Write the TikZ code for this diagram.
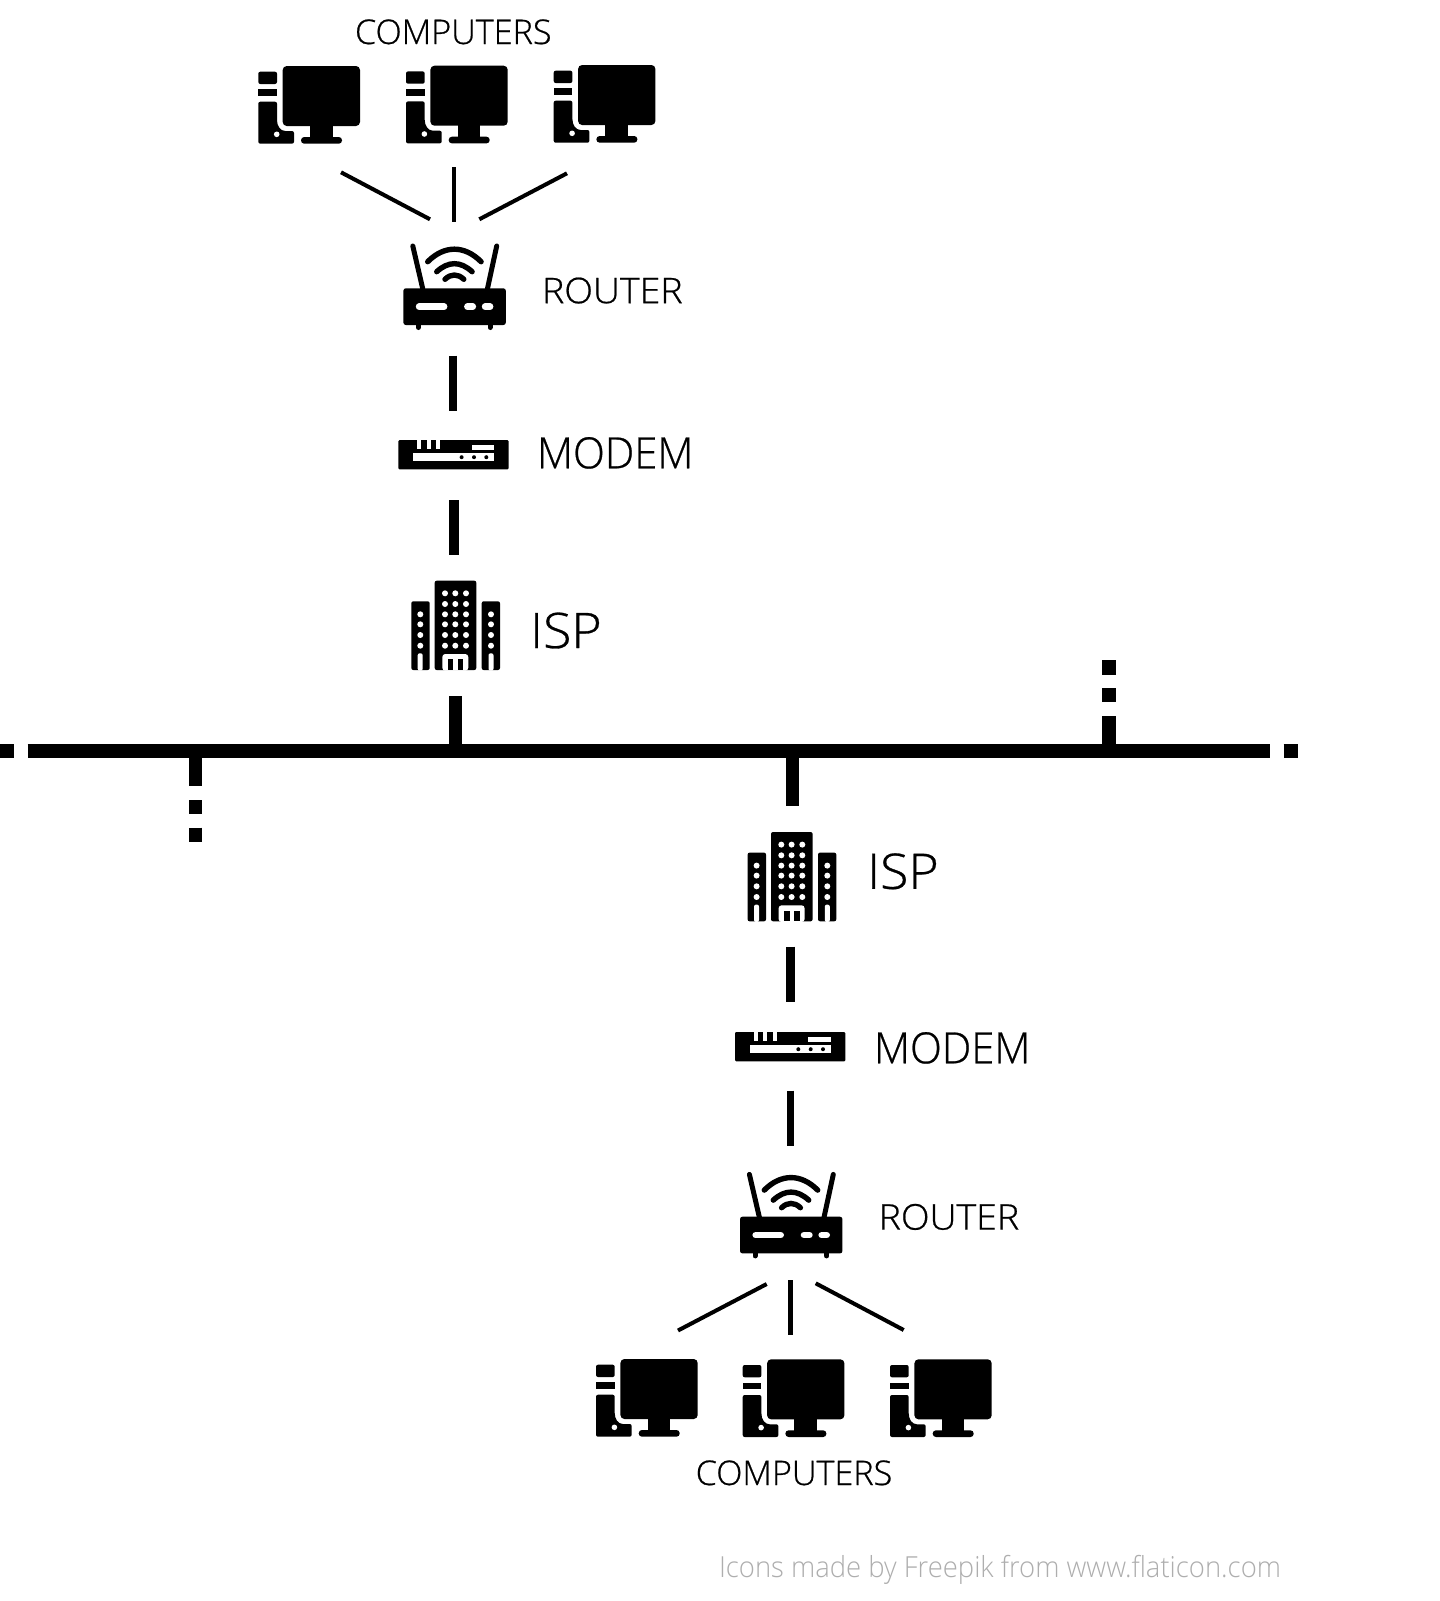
\documentclass[tikz,border=0pt]{standalone}
\usepackage{fontspec}
\setmainfont[UprightFont=* Light]{Open Sans}
\newfontfamily\lblfont[UprightFont=* Light,FakeBold=0.6]{Open Sans}
\definecolor{creditgray}{HTML}{AEAEAE}
\tikzset{
  x=0.5pt, y=-0.5pt,
  lbl/.style={anchor=base west, inner sep=0pt, outer sep=0pt, text=black},
  credit/.style={anchor=base west, inner sep=0pt, outer sep=0pt, text=creditgray},
  thinconn/.style={draw=black, line width=2pt},
  midconn/.style={draw=black, line width=2.4pt},
  icon/.style={fill=black, draw=none},
  hole/.style={fill=white, draw=none},
  computer/.pic={
    \fill[icon,rounded corners=1pt] (0,5.7) rectangle (18.7,18);
    \fill[icon] (0,23.3) rectangle (18.7,30);
    \fill[icon,rounded corners=1pt] (0,35.7) -- (18.7,35.7) -- (18.7,52) .. controls (18.7,60) and (22,65) .. (29,65) -- (35.7,65) -- (35.7,77.7) -- (0,77.7) -- cycle;
    \fill[hole] (18.4,68.3) circle[radius=2.8];
    \fill[icon,rounded corners=2pt] (24.4,0) rectangle (101.7,60);
    \fill[icon] (51.7,58) rectangle (74.4,72);
    \fill[icon,rounded corners=1.6pt] (42.7,71) rectangle (83.7,77.7);
  },
  router/.pic={
    \draw[black,line width=2.5pt,line cap=round] (-41.6,1) -- (-31.6,44);
    \draw[black,line width=2.5pt,line cap=round] (42.3,1) -- (33,44);
    \draw[black,line width=2.7pt,line cap=round] (-26.7,16.7) .. controls (-10,0) and (10,0) .. (26.7,16.7);
    \draw[black,line width=2.7pt,line cap=round] (-17.7,26.7) .. controls (-6,16) and (6,16) .. (17.7,26.7);
    \draw[black,line width=2.7pt,line cap=round] (-9.4,34.3) .. controls (-3.5,28.6) and (3.5,28.6) .. (9.4,34.3);
    \draw[black,line width=2.5pt,line cap=round] (-36,78) -- (-36,82.5);
    \draw[black,line width=2.5pt,line cap=round] (35.7,78) -- (35.7,82.5);
    \fill[icon,rounded corners=1.2pt] (-51,43.3) rectangle (51.4,80);
    \draw[white,line width=3.3pt,line cap=round] (-35.3,61.7) -- (-10.3,61.7);
    \draw[white,line width=3.3pt,line cap=round] (13,61.7) -- (18.4,61.7);
    \draw[white,line width=3.3pt,line cap=round] (30.7,61.7) -- (35.7,61.7);
  },
  modem/.pic={
    \fill[icon,rounded corners=0.6pt] (0,0) rectangle (110.4,29.3);
    \fill[hole] (18.7,-0.2) rectangle (23,9);
    \fill[hole] (28.3,-0.2) rectangle (32.3,9);
    \fill[hole] (37.7,-0.2) rectangle (42,9);
    \fill[hole] (73.3,5) rectangle (96,10);
    \fill[hole] (15,13.3) rectangle (96,21);
    \foreach \dx in {63.3,75.7,88}{\fill[icon] (\dx,17.2) circle[radius=2];}
  },
  isp/.pic={
    \fill[icon,rounded corners=1pt] (23.4,0) -- (65,0) -- (65,89.3) -- (23.4,89.3) -- cycle;
    \fill[icon,rounded corners=1pt] (0,20.6) -- (18.4,20.6) -- (18.4,89.3) -- (0,89.3) -- cycle;
    \fill[icon,rounded corners=1pt] (70.4,20.6) -- (88.7,20.6) -- (88.7,89.3) -- (70.4,89.3) -- cycle;
    \foreach \wx in {33.7,44,54.7}{\foreach \wy in {12.6,23.3,33.6,43.6,54.3,65}{\fill[hole] (\wx,\wy) circle[radius=3];}}
    \foreach \wx in {9,79.7}{\foreach \wy in {33.6,43.6,54.3,65}{\fill[hole] (\wx,\wy) circle[radius=3];}}
    \fill[hole,rounded corners=1pt] (6.4,90) -- (6.4,72.6) -- (11.4,72.6) -- (11.4,90) -- cycle;
    \fill[hole,rounded corners=1pt] (77.2,90) -- (77.2,72.6) -- (82.2,72.6) -- (82.2,90) -- cycle;
    \fill[hole,rounded corners=1.5pt] (31,90) -- (31,73.3) -- (57,73.3) -- (57,90) -- cycle;
    \fill[icon] (36.5,78.7) rectangle (42,89.3);
    \fill[icon] (46.5,78.7) rectangle (52,89.3);
  },
}
\begin{document}
\begin{tikzpicture}
\useasboundingbox (0,0) rectangle (1440,1601);
\fill[white] (0,0) rectangle (1440,1601);

% top computers, router, modem, isp
\pic (pca) at (258.3,66) {computer};
\pic (pcb) at (406,65.7) {computer};
\pic (pcc) at (553.7,65) {computer};
\pic (rta) at (454.4,245) {router};
\pic (mda) at (398.3,440) {modem};
\pic (spa) at (411.3,580.7) {isp};

% lower isp, modem, router, computers
\pic (spb) at (747.6,832) {isp};
\pic (mdb) at (735,1032) {modem};
\pic (rtb) at (791,1173.4) {router};
\pic (pcd) at (596,1359) {computer};
\pic (pce) at (742.7,1359.3) {computer};
\pic (pcf) at (890,1359.3) {computer};

% labels
\node[lbl,font=\lblfont\fontsize{17}{20}\selectfont] (ca) at (355,44) {\scalebox{1.006}[1]{COMPUTERS}};
\node[lbl,font=\lblfont\fontsize{17.7}{20}\selectfont] (ra) at (542,303.2) {\scalebox{1.06}[1]{ROUTER}};
\node[lbl,font=\lblfont\fontsize{21.5}{24}\selectfont] (ma) at (537,468.3) {\scalebox{0.97}[1]{MODEM}};
\node[lbl,font=\lblfont\fontsize{24.5}{28}\selectfont] (ia) at (530,648) {\scalebox{1.06}[1]{ISP}};
\node[lbl,font=\lblfont\fontsize{24.5}{28}\selectfont] (ib) at (867,888.8) {\scalebox{1.06}[1]{ISP}};
\node[lbl,font=\lblfont\fontsize{21.5}{24}\selectfont] (mb) at (874,1063.3) {\scalebox{0.97}[1]{MODEM}};
\node[lbl,font=\lblfont\fontsize{17.7}{20}\selectfont] (rb) at (878.6,1229.6) {\scalebox{1.06}[1]{ROUTER}};
\node[lbl,font=\lblfont\fontsize{17}{20}\selectfont] (cb) at (695.7,1485) {\scalebox{1.006}[1]{COMPUTERS}};
\node[credit,font=\fontsize{14.5}{17}\selectfont] (cr) at (719,1577.3) {\scalebox{0.946}[1]{Icons made by Freepik from www.flaticon.com}};

% connector ends, top group
\coordinate (t1) at (341,172.3); \coordinate (t2) at (430,219.3);
\coordinate (t3) at (454,167.3); \coordinate (t4) at (454,222.3);
\coordinate (t5) at (567,173.3); \coordinate (t6) at (479.3,219.3);
\coordinate (t7) at (453,355.7); \coordinate (t8) at (453,411.3);
\coordinate (t9) at (453.8,500); \coordinate (t10) at (453.8,555);
\coordinate (t11) at (455.5,696); \coordinate (t12) at (455.5,751);
\draw[thinconn] (t1) -- (t2);
\draw[midconn] (t3) -- (t4);
\draw[thinconn] (t5) -- (t6);
\draw[black,line width=3.6pt] (t7) -- (t8);
\draw[black,line width=4.9pt] (t9) -- (t10);
\draw[black,line width=6.6pt] (t11) -- (t12);

% backbone
\coordinate (b1) at (27.6,751); \coordinate (b2) at (1270,751);
\coordinate (b3) at (0,751); \coordinate (b4) at (14,751);
\coordinate (b5) at (1283.5,751); \coordinate (b6) at (1297.5,751);
\draw[black,line width=7.15pt] (b1) -- (b2);
\draw[black,line width=7.15pt] (b3) -- (b4);
\draw[black,line width=7.15pt] (b5) -- (b6);

% stems
\coordinate (l1) at (195.5,751); \coordinate (l2) at (195.5,786);
\coordinate (l3) at (195.5,800.3); \coordinate (l4) at (195.5,814);
\coordinate (l5) at (195.5,827.7); \coordinate (l6) at (195.5,841.7);
\draw[black,line width=6.6pt] (l1) -- (l2);
\draw[black,line width=6.6pt] (l3) -- (l4);
\draw[black,line width=6.6pt] (l5) -- (l6);
\coordinate (r1) at (1109,660.3); \coordinate (r2) at (1109,674.7);
\coordinate (r3) at (1109,688.3); \coordinate (r4) at (1109,702);
\coordinate (r5) at (1109,716); \coordinate (r6) at (1109,751);
\draw[black,line width=6.6pt] (r1) -- (r2);
\draw[black,line width=6.6pt] (r3) -- (r4);
\draw[black,line width=6.6pt] (r5) -- (r6);
\coordinate (s1) at (792.5,751); \coordinate (s2) at (792.5,806);
\draw[black,line width=6.6pt] (s1) -- (s2);

% connector ends, lower group
\coordinate (u1) at (790.5,946.7); \coordinate (u2) at (790.5,1001.7);
\coordinate (u3) at (790.5,1090.7); \coordinate (u4) at (790.5,1146);
\coordinate (u5) at (766.7,1284); \coordinate (u6) at (678,1330.5);
\coordinate (u7) at (790.7,1280); \coordinate (u8) at (790.7,1335);
\coordinate (u9) at (815.7,1283.3); \coordinate (u10) at (903.7,1330);
\draw[black,line width=4.9pt] (u1) -- (u2);
\draw[black,line width=3.6pt] (u3) -- (u4);
\draw[thinconn] (u5) -- (u6);
\draw[midconn] (u7) -- (u8);
\draw[thinconn] (u9) -- (u10);
\end{tikzpicture}
\end{document}
